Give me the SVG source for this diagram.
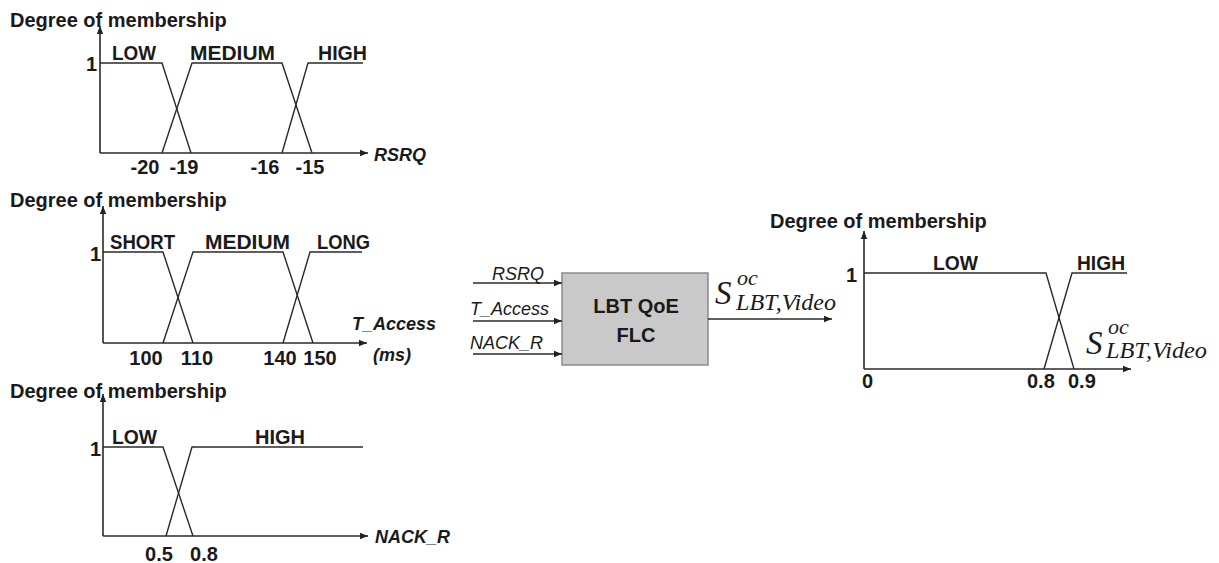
<svg xmlns="http://www.w3.org/2000/svg" width="1219" height="563" viewBox="0 0 1219 563">
<defs>
<marker id="ah" viewBox="0 0 10 10" refX="10" refY="5" markerWidth="8" markerHeight="8" markerUnits="userSpaceOnUse" orient="auto">
<path d="M0,1 L10,5 L0,9 z" fill="#222"/>
</marker>
</defs>
<style>
.ax{stroke:#2a2a2a;stroke-width:1.6;fill:none}
.mf{stroke:#2a2a2a;stroke-width:1.4;fill:none}
.t{font-family:"Liberation Sans",Arial,sans-serif;font-weight:bold;fill:#1a1a1a;font-size:20px}
.var{font-family:"Liberation Sans",Arial,sans-serif;font-weight:bold;font-style:italic;font-size:18px;fill:#1a1a1a}
.inl{font-family:"Liberation Sans",Arial,sans-serif;font-style:italic;font-size:18px;fill:#1a1a1a}
.m{font-family:"Liberation Serif","Times New Roman",serif;font-style:italic;fill:#1a1a1a}
</style>
<rect width="1219" height="563" fill="#ffffff"/>

<g id="chart-rsrq">
<text class="t" x="10" y="27">Degree of membership</text>
<line class="ax" x1="100" y1="153" x2="100" y2="26" marker-end="url(#ah)"/>
<line class="ax" x1="100" y1="153" x2="368" y2="153" marker-end="url(#ah)"/>
<polyline class="mf" points="100,63 162,63 191,153"/>
<polyline class="mf" points="162,153 192,63 282,63 312,153"/>
<polyline class="mf" points="282,153 308,63 363,63"/>
<text class="t" x="97" y="71" text-anchor="end">1</text>
<text class="t" x="112" y="60" textLength="44" lengthAdjust="spacingAndGlyphs">LOW</text>
<text class="t" x="190" y="60" textLength="85" lengthAdjust="spacingAndGlyphs">MEDIUM</text>
<text class="t" x="318" y="60" textLength="49" lengthAdjust="spacingAndGlyphs">HIGH</text>
<text class="t" x="145" y="174" text-anchor="middle">-20</text>
<text class="t" x="184" y="174" text-anchor="middle">-19</text>
<text class="t" x="265" y="174" text-anchor="middle">-16</text>
<text class="t" x="310" y="174" text-anchor="middle">-15</text>
<text class="var" x="374" y="161">RSRQ</text>
</g>

<g id="chart-taccess">
<text class="t" x="10" y="207">Degree of membership</text>
<line class="ax" x1="103" y1="343" x2="103" y2="206" marker-end="url(#ah)"/>
<line class="ax" x1="103" y1="343" x2="367" y2="343" marker-end="url(#ah)"/>
<polyline class="mf" points="103,252 163,252 193,343"/>
<polyline class="mf" points="163,343 193,252 283,252 313,343"/>
<polyline class="mf" points="283,343 310,252 362,252"/>
<text class="t" x="101" y="261" text-anchor="end">1</text>
<text class="t" x="110" y="249" textLength="65" lengthAdjust="spacingAndGlyphs">SHORT</text>
<text class="t" x="205" y="249" textLength="85" lengthAdjust="spacingAndGlyphs">MEDIUM</text>
<text class="t" x="317" y="249" textLength="53" lengthAdjust="spacingAndGlyphs">LONG</text>
<text class="t" x="146" y="365" text-anchor="middle">100</text>
<text class="t" x="197" y="365" text-anchor="middle">110</text>
<text class="t" x="280" y="365" text-anchor="middle">140</text>
<text class="t" x="320" y="365" text-anchor="middle">150</text>
<text class="var" x="352" y="330">T_Access</text>
<text class="var" x="373" y="361">(ms)</text>
</g>

<g id="chart-nack">
<text class="t" x="10" y="398">Degree of membership</text>
<line class="ax" x1="103" y1="536" x2="103" y2="394" marker-end="url(#ah)"/>
<line class="ax" x1="103" y1="536" x2="368" y2="536" marker-end="url(#ah)"/>
<polyline class="mf" points="103,447 163,447 193,536"/>
<polyline class="mf" points="166,536 192,447 363,447"/>
<text class="t" x="101" y="456" text-anchor="end">1</text>
<text class="t" x="112" y="444" textLength="45" lengthAdjust="spacingAndGlyphs">LOW</text>
<text class="t" x="255" y="444" textLength="50" lengthAdjust="spacingAndGlyphs">HIGH</text>
<text class="t" x="159" y="561" text-anchor="middle">0.5</text>
<text class="t" x="204" y="561" text-anchor="middle">0.8</text>
<text class="var" x="375" y="543">NACK_R</text>
</g>

<g id="flc">
<rect x="562" y="273" width="146" height="92" fill="#c9c9c9" stroke="#8a8a8a" stroke-width="1.5"/>
<text class="t" x="636" y="313" text-anchor="middle">LBT QoE</text>
<text class="t" x="636" y="342" text-anchor="middle">FLC</text>
</g>

<g id="connectors">
<line class="ax" x1="473" y1="283" x2="562" y2="283" marker-end="url(#ah)"/>
<line class="ax" x1="473" y1="321" x2="562" y2="321" marker-end="url(#ah)"/>
<line class="ax" x1="473" y1="354" x2="562" y2="354" marker-end="url(#ah)"/>
<line class="ax" x1="708" y1="319" x2="832" y2="319" marker-end="url(#ah)"/>
</g>

<g id="labels-io">
<text class="inl" x="492" y="280">RSRQ</text>
<text class="inl" x="470" y="315">T_Access</text>
<text class="inl" x="470" y="349">NACK_R</text>
<text class="m" x="715" y="304" font-size="33">S</text>
<text class="m" x="737" y="285" font-size="22">oc</text>
<text class="m" x="736" y="310" font-size="23" textLength="100" lengthAdjust="spacingAndGlyphs">LBT,Video</text>
</g>

<g id="chart-output">
<text class="t" x="770" y="228">Degree of membership</text>
<line class="ax" x1="864" y1="369" x2="864" y2="231" marker-end="url(#ah)"/>
<line class="ax" x1="864" y1="369" x2="1131" y2="369" marker-end="url(#ah)"/>
<polyline class="mf" points="864,273 1046,273 1074,369"/>
<polyline class="mf" points="1044,369 1072,273 1127,273"/>
<text class="t" x="857" y="282" text-anchor="end">1</text>
<text class="t" x="933" y="270" textLength="45" lengthAdjust="spacingAndGlyphs">LOW</text>
<text class="t" x="1077" y="270" textLength="48" lengthAdjust="spacingAndGlyphs">HIGH</text>
<text class="t" x="862" y="388">0</text>
<text class="t" x="1027" y="388">0.8</text>
<text class="t" x="1068" y="388">0.9</text>
<text class="m" x="1086" y="354" font-size="33">S</text>
<text class="m" x="1108" y="334" font-size="22">oc</text>
<text class="m" x="1106" y="358" font-size="23" textLength="101" lengthAdjust="spacingAndGlyphs">LBT,Video</text>
</g>
</svg>
